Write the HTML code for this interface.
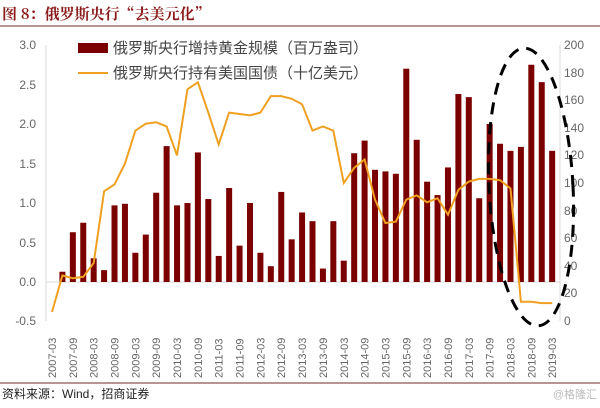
<!DOCTYPE html>
<html><head><meta charset="utf-8"><style>
body{margin:0;background:#fff;width:600px;height:403px;overflow:hidden;font-family:"Liberation Sans","Noto Sans CJK SC",sans-serif}
</style></head><body>
<svg width="600" height="403" xmlns="http://www.w3.org/2000/svg" font-family="Liberation Sans, Noto Sans CJK SC, sans-serif">
<text x="2" y="19" font-size="15" font-weight="bold" fill="#8b1a1a" font-family="Noto Serif CJK SC, serif">图 8：俄罗斯央行“去美元化”</text>
<line x1="0" y1="26" x2="600" y2="26" stroke="#a07070" stroke-width="1.5"/>
<line x1="0" y1="383" x2="600" y2="383" stroke="#a07070" stroke-width="1.5"/>
<text x="2" y="398" font-size="12" fill="#222">资料来源：Wind，招商证券</text>
<text x="597" y="398" font-size="11" fill="#bbb" text-anchor="end">@格隆汇</text>
<g stroke="#d8d8d8" stroke-width="1"><line x1="46" y1="45" x2="46" y2="321"/><line x1="560" y1="45" x2="560" y2="321"/><line x1="46" y1="282" x2="560" y2="282"/></g>
<g font-size="12" fill="#666" text-anchor="end">
<text x="36" y="49">3.0</text><text x="36" y="89">2.5</text><text x="36" y="128">2.0</text><text x="36" y="168">1.5</text><text x="36" y="207">1.0</text><text x="36" y="247">0.5</text><text x="36" y="286">0.0</text><text x="36" y="325">-0.5</text></g>
<g font-size="12" fill="#666">
<text x="564" y="49">200</text><text x="564" y="77">180</text><text x="564" y="104">160</text><text x="564" y="132">140</text><text x="564" y="159">120</text><text x="564" y="187">100</text><text x="564" y="215">80</text><text x="564" y="242">60</text><text x="564" y="270">40</text><text x="564" y="297">20</text><text x="564" y="325">0</text></g>
<g id="bars" fill="#7b0000"></g>
<polyline id="ln" fill="none" stroke="#f0a020" stroke-width="2" points=""/>
<g id="xl" font-size="11" fill="#666"></g>
<rect x="78" y="43" width="30" height="10" fill="#7b0000"/>
<text x="113" y="53" font-size="15" fill="#444">俄罗斯央行增持黄金规模（百万盎司）</text>
<line x1="78" y1="73" x2="108" y2="73" stroke="#f0a020" stroke-width="2"/>
<text x="113" y="78" font-size="15" fill="#444">俄罗斯央行持有美国国债（十亿美元）</text>
<ellipse cx="531" cy="187" rx="42" ry="139" fill="none" stroke="#000" stroke-width="3" stroke-dasharray="12,8" transform="rotate(-3 531 187)"/>
</svg>
<script>
var b=[0,0.13,0.63,0.75,0.3,0.15,0.97,0.99,0.37,0.6,1.13,1.72,0.97,1.0,1.64,1.05,0.33,1.19,0.46,1.0,0.37,0.2,1.14,0.54,0.88,0.77,0.17,0.77,0.27,1.63,1.79,1.42,1.4,1.37,2.7,1.8,1.27,1.1,1.45,2.38,2.34,1.06,2.0,1.75,1.66,1.71,2.75,2.53,1.66];
var l=[6.5,33,31,32,42,94,99,114,138,143,144,141,120,168,173,151,128,151,150,149,151,163,163,161,157,138,141,138,100,111,117,88,71,72,88,91,86,89,77,95,101,103,103,102,96,14,14,13,13];
var ns="http://www.w3.org/2000/svg",g=document.getElementById("bars"),xl=document.getElementById("xl"),pts=[];
for(var i=0;i<49;i++){var x=52+i*10.42;
if(b[i]>0){var h=b[i]*79,r=document.createElementNS(ns,"rect");r.setAttribute("x",x-3);r.setAttribute("y",282-h);r.setAttribute("width",6);r.setAttribute("height",h);g.appendChild(r);}
pts.push(x.toFixed(1)+","+(321-l[i]*1.38).toFixed(1));
if(i%2==0){var yr=2007+Math.floor(i/4),m=(i%4==0)?"03":"09",t=document.createElementNS(ns,"text");t.setAttribute("transform","translate("+(x+4)+",378) rotate(-90)");t.textContent=yr+"-"+m;xl.appendChild(t);}}
document.getElementById("ln").setAttribute("points",pts.join(" "));
</script>
</body></html>
